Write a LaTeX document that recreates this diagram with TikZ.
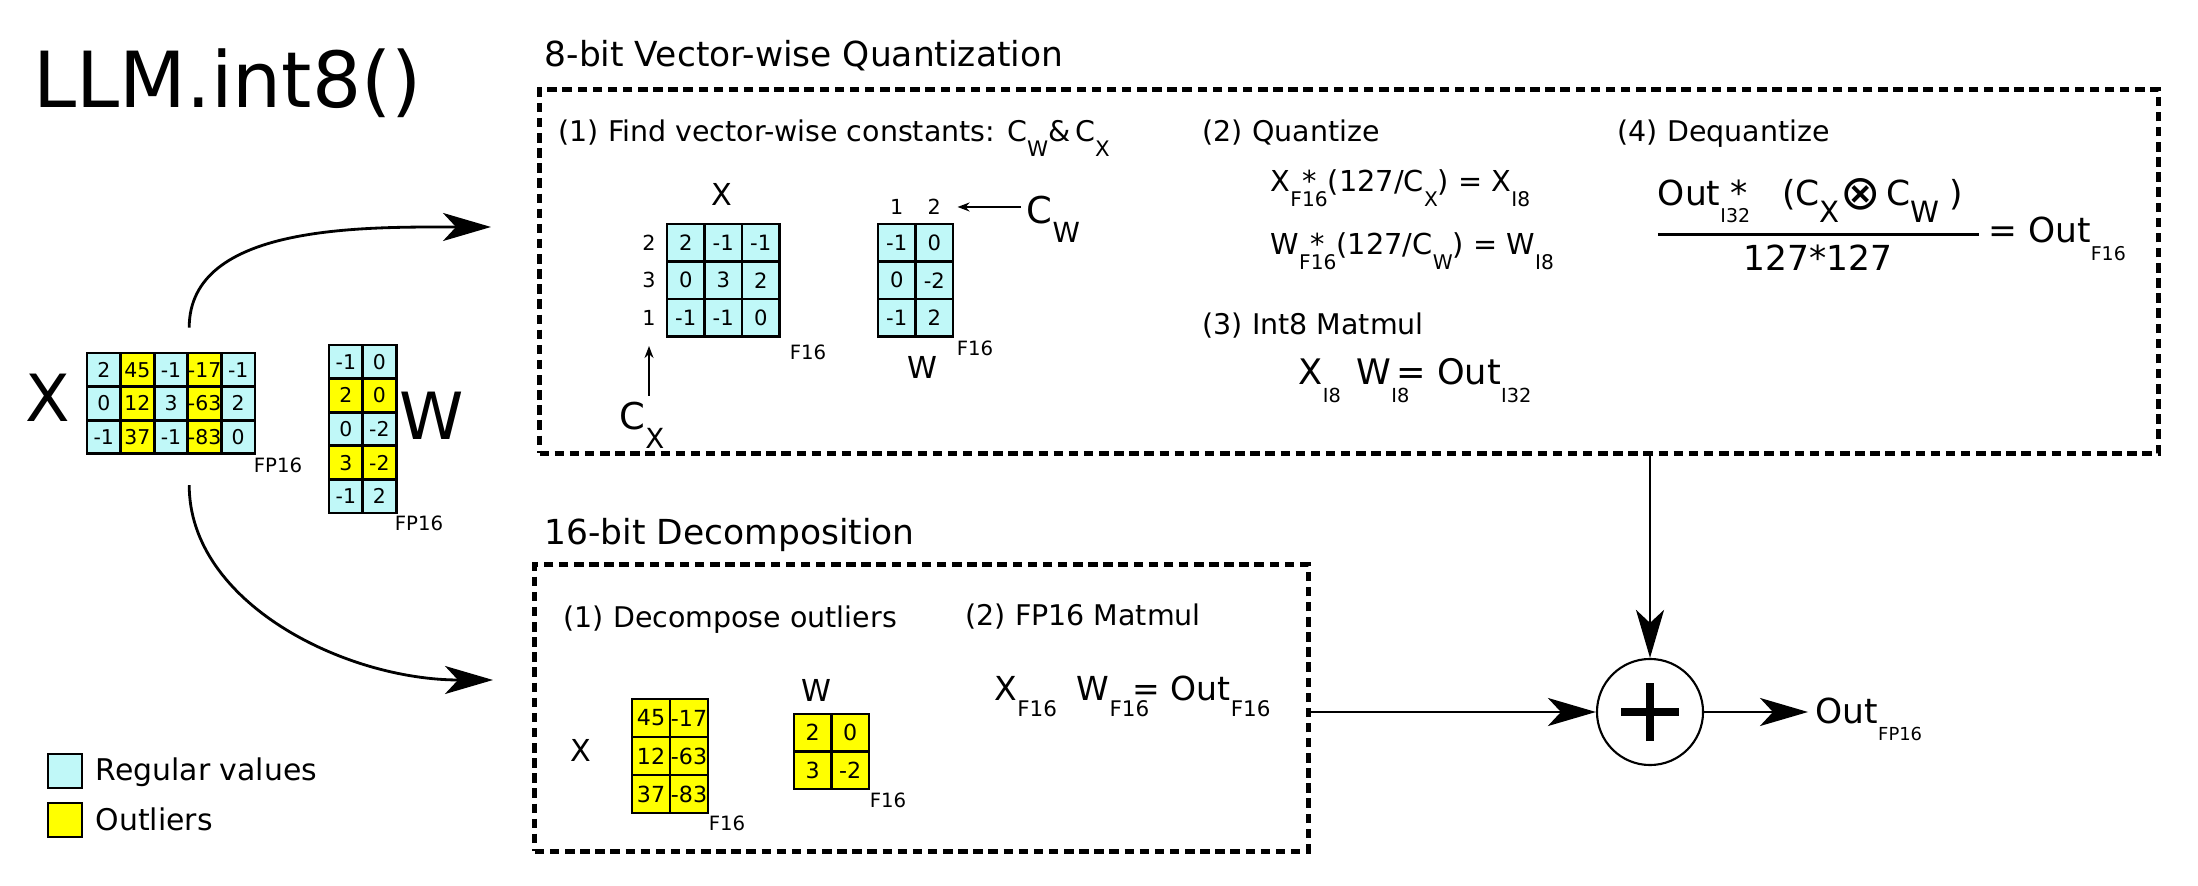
\documentclass[tikz,border=0pt]{standalone}
\usepackage{fontspec}
\setmainfont{DejaVu Sans}
\usetikzlibrary{arrows.meta}
\definecolor{cy}{RGB}{192,248,248}
\definecolor{ye}{RGB}{255,255,0}
\def\fsz#1{\fontsize{#1}{#1}\selectfont}
\newcommand\lsub[2][.65]{\raisebox{-.5em}{\scalebox{#1}{#2}}}

\begin{document}
\begin{tikzpicture}[x=0.01cm,y=-0.01cm,every node/.style={inner sep=0pt},
  cell/.style={draw,line width=.8pt,minimum size=3.36mm,font=\fsz{5.8}},
  tag/.style={font=\fsz{5.6}},
  idx/.style={font=\fsz{5.9}},
  lbl/.style={font=\fsz{8.6}},
  big/.style={font=\fsz{18.5}},
  head/.style={anchor=base west,font=\fsz{9.8}},
  stp/.style={anchor=base west,font=\fsz{8.1}},
  dbox/.style={draw,line width=1.4pt,dash pattern=on 2.7pt off 1.6pt},
  bigarrow/.style={line width=.8pt,-{Stealth[length=4.8mm,width=2.8mm,inset=1.3mm]}},
  thinarrow/.style={line width=.5pt,-{Stealth[length=1.2mm,width=.9mm]}}]
\useasboundingbox (0,0) rectangle (2198,886);

\node[anchor=base west,font=\fsz{22}] (title) at (33,108) {LLM.int8()};

% input matrices
\node[big] (bx) at (48,398) {X};
\foreach \row/\vals in {1/{2/cy,45/ye,-1/cy,-17/ye,-1/cy},%
    2/{0/cy,12/ye,3/cy,-63/ye,2/cy},3/{-1/cy,37/ye,-1/cy,-83/ye,0/cy}}{%
  \foreach \val/\col [count=\k] in \vals
    \node[cell,fill=\col] (lx-\row-\k) at (70.2+33.6*\k,336.2+33.6*\row) {\val};
}
\node[tag] (xtag) at (278,465) {FP16};
\foreach \row/\vals in {1/{-1/cy,0/cy},2/{2/ye,0/ye},3/{0/cy,-2/cy},%
    4/{3/ye,-2/ye},5/{-1/cy,2/cy}}{%
  \foreach \val/\col [count=\k] in \vals
    \node[cell,fill=\col] (lw-\row-\k) at (312.2+33.6*\k,328.2+33.6*\row) {\val};
}
\node[big] (bw) at (432,416) {W};
\node[tag] (wtag) at (419,523) {FP16};

% legend
\node[draw,line width=.8pt,fill=cy,minimum size=3.4mm] (kreg) at (65,771) {};
\node[anchor=base west,font=\fsz{8.5}] (treg) at (95,780) {Regular values};
\node[draw,line width=.8pt,fill=ye,minimum size=3.4mm] (kout) at (65,820) {};
\node[anchor=base west,font=\fsz{8.5}] (tout) at (95,830) {Outliers};

% 8-bit part
\node[head] (qhead) at (544,67) {8-bit Vector-wise Quantization};
\node[dbox,minimum width=16.18cm,minimum height=3.63cm] (quant) at (1349,271.5) {};
\node[stp] (s1) at (558,142) {(1) Find vector-wise constants: C\lsub[.75]{W}\&\,C\lsub[.75]{X}};
\node[lbl] (xlab) at (722,194) {X};
\foreach \row/\vals in {1/{2,-1,-1},2/{0,3,2},3/{-1,-1,0}}{%
  \foreach \val [count=\k] in \vals
    \node[cell,fill=cy,minimum size=3.75mm,font=\fsz{6}] (sx-\row-\k)
      at (648.25+37.5*\k,205.25+37.5*\row) {\val};
}
\foreach \val [count=\k] in {2,3,1}
  \node[idx] (xr-\k) at (649,205.25+37.5*\k) {\val};
\node[tag] (sxtag) at (808,352) {F16};
\node[anchor=base west,font=\fsz{10.5}] (cx) at (619,430) {C\lsub[.75]{X}};
\draw[thinarrow,shorten <=.06cm,shorten >=.2cm] (xr-3.south |- cx.north) -- (xr-3.south);

\foreach \row/\vals in {1/{-1,0},2/{0,-2},3/{-1,2}}{%
  \foreach \val [count=\k] in \vals
    \node[cell,fill=cy,minimum size=3.75mm,font=\fsz{6}] (sw-\row-\k)
      at (859.25+37.5*\k,205.25+37.5*\row) {\val};
}
\foreach \val [count=\k] in {1,2}
  \node[idx] (wc-\k) at (859.25+37.5*\k,207) {\val};
\node[lbl] (wlab) at (922,367) {W};
\node[tag] (swtag) at (975,348) {F16};
\node[anchor=base west,font=\fsz{10.5}] (cw) at (1026,224) {C\lsub[.75]{W}};
\draw[thinarrow,shorten <=.05cm,shorten >=.16cm] (cw.west |- wc-2.east) -- (wc-2.east);

\node[stp] (s2) at (1202,142) {(2) Quantize};
\node[anchor=base west,font=\fsz{8.2}] (fx) at (1270,192)
  {X\rlap{\lsub[.7]{F16}}\makebox[1.3em]{*}(127/C\lsub[.7]{X}) = X\lsub[.7]{I8}};
\node[anchor=base west,font=\fsz{8.2}] (fw) at (1270,255)
  {W\rlap{\lsub[.7]{F16}}\makebox[1.3em]{*}(127/C\lsub[.7]{W}) = W\lsub[.7]{I8}};
\node[stp] (s3) at (1202,335) {(3) Int8 Matmul};
\node[anchor=base west,font=\fsz{10}] (fi) at (1298,385)
  {X\lsub[.55]{I8}\hspace{.45em}W\rlap{\lsub[.55]{I8}}\hspace{.15em}= Out\lsub[.55]{I32}};
\node[stp] (s4) at (1617,142) {(4) Dequantize};
\node[anchor=base west,font=\fsz{9.8}] (fd) at (1653,243)
  {$\displaystyle{\hbox{Out\rlap{\lsub[.55]{I32}}\makebox[1.1em]{*}\hspace{.7em}%
    (C\lsub[.85]{X}\raisebox{-.12em}{\scalebox{1.4}{⊗}}\,C\lsub[.85]{W}\hspace{.3em})\hspace{.45em}}%
    \above .9pt\hbox{127*127}}$\,= Out\lsub[.55]{F16}};

% 16-bit part
\node[head] (dhead) at (544,545) {16-bit Decomposition};
\node[dbox,minimum width=7.73cm,minimum height=2.86cm] (dec) at (921.5,708) {};
\node[stp] (d1) at (563,628) {(1) Decompose outliers};
\node[lbl] (oxl) at (581,750) {X};
\foreach \row/\vals in {1/{45,-17},2/{12,-63},3/{37,-83}}{%
  \foreach \val [count=\k] in \vals
    \node[cell,fill=ye,minimum size=3.8mm,font=\fsz{6.3}] (ox-\row-\k)
      at (613+38*\k,680+38*\row) {\val};
}
\node[tag] (oxtag) at (727,823) {F16};
\node[lbl] (owl) at (816,690) {W};
\foreach \row/\vals in {1/{2,0},2/{3,-2}}{%
  \foreach \val [count=\k] in \vals
    \node[cell,fill=ye,minimum size=3.75mm,font=\fsz{6.3}] (ow-\row-\k)
      at (775.25+37.5*\k,695.25+37.5*\row) {\val};
}
\node[tag] (owtag) at (888,800) {F16};
\node[stp] (d2) at (965,626) {(2) FP16 Matmul};
\node[anchor=base west,font=\fsz{9.4}] (ff) at (994,700)
  {X\lsub{F16}\hspace{.6em}W\rlap{\lsub{F16}}\hspace{.7em}= Out\lsub{F16}};

% merge
\coordinate (qin) at (491,227);
\coordinate (din) at (493,680);
\node[circle,draw,line width=.6pt,minimum size=10.6mm] (sum) at (1650,712) {};
\draw[line width=2.3pt] ([xshift=-.29cm]sum.center) -- ([xshift=.29cm]sum.center);
\draw[line width=2.3pt] ([yshift=-.29cm]sum.center) -- ([yshift=.29cm]sum.center);
\node[anchor=base west,font=\fsz{9.8}] (out) at (1815,723) {Out\lsub[.52]{FP16}};

\draw[bigarrow,shorten <=.24cm] (lx-1-3.north east) to[out=90,in=180] (qin);
\draw[bigarrow,shorten <=.3cm] (lx-3-3.south east) to[out=-90,in=180] (din);
\draw[bigarrow] (quant.south -| sum.north) -- (sum.north);
\draw[bigarrow] (dec.east |- sum.west) -- (sum.west);
\draw[bigarrow,shorten >=.07cm] (sum.east) -- (sum.east -| out.west);
\end{tikzpicture}
\end{document}
